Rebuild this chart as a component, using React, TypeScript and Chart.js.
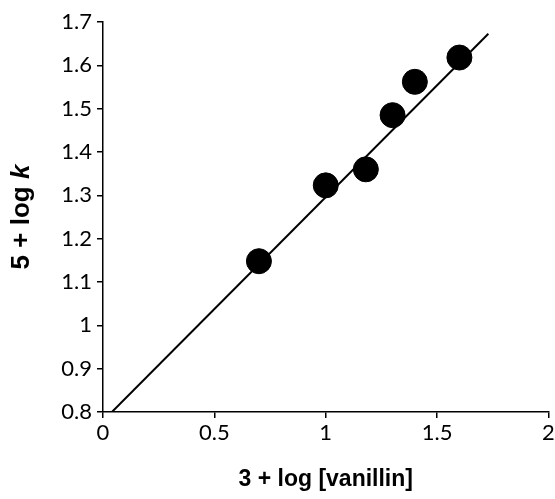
import React, { useEffect, useRef } from "react";
import { Chart, registerables } from "chart.js";
Chart.register(...registerables);

const xValues = [0.70, 1.00, 1.18, 1.30, 1.40, 1.60];
const yValues = [1.148, 1.323, 1.36, 1.485, 1.562, 1.618];
const fitX = [0.04, 1.73];
const fitY = [0.80, 1.673];
const xTitle = "3 + log [vanillin]";
const yTitleMain = "5 + log ";
const yTitleItalic = "k";

const tickFamily = "Lato, 'Open Sans', sans-serif";
const titleFamily = "'Liberation Sans', Arial, sans-serif";

const fmt = (v: number | string) => String(Math.round(Number(v) * 10) / 10);

export default function App() {
  const ref = useRef<HTMLCanvasElement>(null);
  useEffect(() => {
    document.body.style.margin = "0";
    const canvas = ref.current!;
    const yTitlePlugin = {
      id: "yTitle",
      afterDraw(chart: any) {
        const c = chart.ctx;
        const area = chart.chartArea;
        c.save();
        c.translate(22, (area.top + area.bottom) / 2);
        c.rotate(-Math.PI / 2);
        c.fillStyle = "#000";
        c.textBaseline = "middle";
        c.textAlign = "left";
        const f1 = `bold 26px ${titleFamily}`;
        const f2 = `italic bold 26px ${titleFamily}`;
        c.font = f1;
        const w1 = c.measureText(yTitleMain).width;
        c.font = f2;
        const w2 = c.measureText(yTitleItalic).width;
        const x0 = -(w1 + w2) / 2;
        c.font = f1;
        c.fillText(yTitleMain, x0, 0);
        c.font = f2;
        c.fillText(yTitleItalic, x0 + w1, 0);
        c.restore();
      },
    };
    const chart = new Chart(canvas, {
      type: "scatter",
      data: {
        datasets: [
          {
            data: xValues.map((x, i) => ({ x, y: yValues[i] })),
            pointRadius: 12.5,
            pointHoverRadius: 12.5,
            backgroundColor: "#000",
            borderColor: "#000",
            showLine: false,
            order: 1,
          },
          {
            data: fitX.map((x, i) => ({ x, y: fitY[i] })),
            showLine: true,
            pointRadius: 0,
            borderColor: "#000",
            borderWidth: 2,
            order: 2,
          },
        ],
      },
      options: {
        animation: false,
        responsive: false,
        devicePixelRatio: 1,
        layout: { padding: { left: 0, right: 0, top: 22, bottom: 0 } },
        plugins: { legend: { display: false }, tooltip: { enabled: false } },
        scales: {
          x: {
            type: "linear",
            min: 0,
            max: 2,
            ticks: { stepSize: 0.5, color: "#000", font: { family: tickFamily, size: 22 }, padding: 2, callback: (v: any) => fmt(v) },
            grid: { drawOnChartArea: false, drawTicks: true, tickLength: 6, color: "#000", lineWidth: 1.5 },
            border: { color: "#000", width: 1.5 },
            title: {
              display: true,
              text: xTitle,
              color: "#000",
              font: { family: titleFamily, size: 23, weight: "bold" },
              padding: { top: 0, bottom: 6 },
            },
            afterFit(scale: any) {
              scale.height = 87;
            },
          },
          y: {
            type: "linear",
            min: 0.8,
            max: 1.7,
            ticks: { stepSize: 0.1, color: "#000", font: { family: tickFamily, size: 22 }, padding: 5, callback: (v: any) => fmt(v) },
            grid: { drawOnChartArea: false, drawTicks: true, tickLength: 6, color: "#000", lineWidth: 1.5 },
            border: { color: "#000", width: 1.5 },
            afterFit(scale: any) {
              scale.width = 103;
            },
          },
        },
      },
      plugins: [yTitlePlugin],
    });
    return () => chart.destroy();
  }, []);
  return (
    <div style={{ width: 555, height: 499, overflow: "hidden", position: "relative" }}>
      <canvas ref={ref} width={562} height={499} style={{ display: "block" }} />
    </div>
  );
}
